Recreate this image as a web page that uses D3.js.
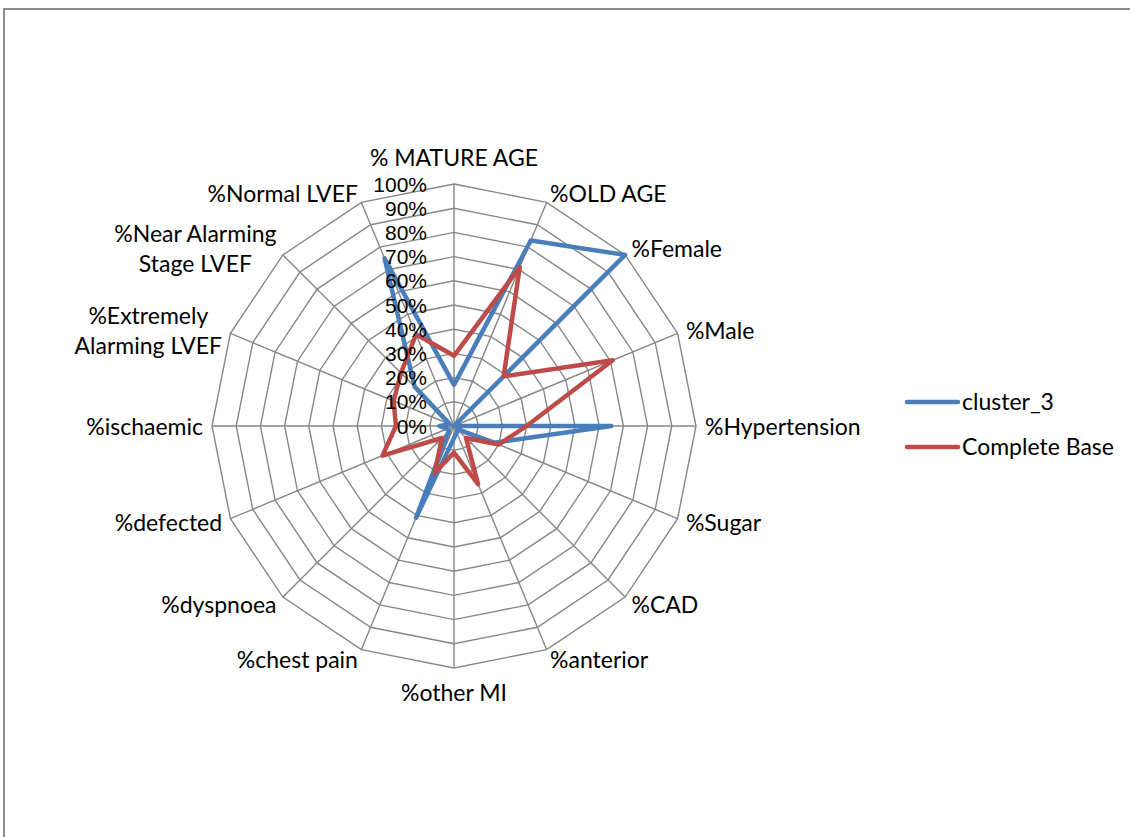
<!DOCTYPE html>
<html>
<head>
<meta charset="utf-8">
<script src="https://cdn.jsdelivr.net/npm/d3@7"></script>
<style>
  html, body { margin: 0; padding: 0; background: #fff; }
  svg { display: block; font-family: Lato, "Open Sans", sans-serif; }
</style>
</head>
<body>
<svg id="chart" width="1130" height="837"></svg>
<script>
// Radar axes, clockwise from the top
const categories = [
  "% MATURE AGE", "%OLD AGE", "%Female", "%Male", "%Hypertension", "%Sugar",
  "%CAD", "%anterior", "%other MI", "%chest pain", "%dyspnoea", "%defected",
  "%ischaemic", "%Extremely|Alarming LVEF", "%Near Alarming|Stage LVEF", "%Normal LVEF"
];
// Series values, in percent
const cluster3 = [17, 83, 100, 0, 65, 18, 2, 3, 5, 41, 3, 3, 6, 2, 23, 75];
const completeBase = [29, 71, 29, 71, 30, 20, 7, 26, 11, 21, 7, 32, 24, 27, 31, 41];
const seriesNames = ["cluster_3", "Complete Base"];
const tickValues = [0, 10, 20, 30, 40, 50, 60, 70, 80, 90, 100];
const tickLabels = ["0%", "10%", "20%", "30%", "40%", "50%", "60%", "70%", "80%", "90%", "100%"];

const colors = ["#4A7EBB", "#BE4B48"];
const svg = d3.select("#chart");
const cx = 454, cy = 426, R = 242;
const fontSize = 23;

// frame
svg.append("path")
  .attr("d", "M4,837 V9 H1130")
  .attr("fill", "none").attr("stroke", "#8c8c8c").attr("stroke-width", 2);

const g = svg.append("g").attr("transform", `translate(${cx},${cy})`);

const r = d3.scaleLinear().domain([0, 100]).range([0, R]);
const angle = d3.scaleLinear().domain([0, categories.length]).range([0, 2 * Math.PI]);
const pt = (i, v) => [Math.sin(angle(i)) * r(v), -Math.cos(angle(i)) * r(v)];

// grid polygons
const ring = d3.lineRadial().angle((d, i) => angle(i)).curve(d3.curveLinearClosed);
tickValues.slice(1).forEach(t => {
  g.append("path")
    .attr("d", ring.radius(() => r(t))(categories))
    .attr("fill", "none").attr("stroke", "#878787").attr("stroke-width", 1.4);
});
// spokes
g.selectAll("line.spoke").data(categories).join("line")
  .attr("class", "spoke")
  .attr("x1", 0).attr("y1", 0)
  .attr("x2", (d, i) => pt(i, 100)[0])
  .attr("y2", (d, i) => pt(i, 100)[1])
  .attr("stroke", "#878787").attr("stroke-width", 1.4);

// series
const line = d3.lineRadial()
  .angle((d, i) => angle(i))
  .radius(d => r(d))
  .curve(d3.curveLinearClosed);
[cluster3, completeBase].forEach((s, k) => {
  g.append("path")
    .attr("d", line(s))
    .attr("fill", "none")
    .attr("stroke", colors[k])
    .attr("stroke-width", 4.5)
    .attr("stroke-linejoin", "round");
});

// radial tick labels along the top spoke
g.selectAll("text.tick").data(tickValues).join("text")
  .attr("class", "tick")
  .attr("x", -27)
  .attr("y", d => -r(d))
  .attr("dy", "0.36em")
  .attr("text-anchor", "end")
  .attr("font-family", "'Liberation Sans', Arial, sans-serif")
  .attr("font-size", 21)
  .attr("fill", "#000")
  .text((d, i) => tickLabels[i]);

// category labels outside the outer ring
categories.forEach((c, i) => {
  const lines = c.split("|");
  const s = Math.sin(angle(i)), co = -Math.cos(angle(i));
  const t = g.append("text").attr("font-size", fontSize).attr("fill", "#000").attr("text-anchor", "middle");
  lines.forEach((l, j) => {
    t.append("tspan").attr("x", 0).attr("y", j * 30).text(l);
  });
  const bb = t.node().getBBox();
  const w = bb.width, h = bb.height;
  const vx = s * R, vy = co * R;
  let left, centerY;
  if (Math.abs(s) < 0.05) {
    left = vx - w / 2;
    centerY = co < 0 ? vy - 27 : vy + 24;
  } else {
    left = s > 0 ? vx + 9 * s : vx + 9 * s - w;
    centerY = vy + co * 10;
  }
  t.attr("transform", `translate(${left - bb.x},${centerY - (bb.y + h / 2)})`);
});

// legend
const leg = svg.append("g");
seriesNames.forEach((n, k) => {
  const y = 402 + k * 45;
  leg.append("line").attr("x1", 907).attr("x2", 958).attr("y1", y).attr("y2", y)
    .attr("stroke", colors[k]).attr("stroke-width", 4.5).attr("stroke-linecap", "round");
  leg.append("text").attr("x", 962).attr("y", y).attr("dy", "0.36em")
    .attr("font-size", fontSize).attr("fill", "#000").text(n);
});
</script>
</body>
</html>
